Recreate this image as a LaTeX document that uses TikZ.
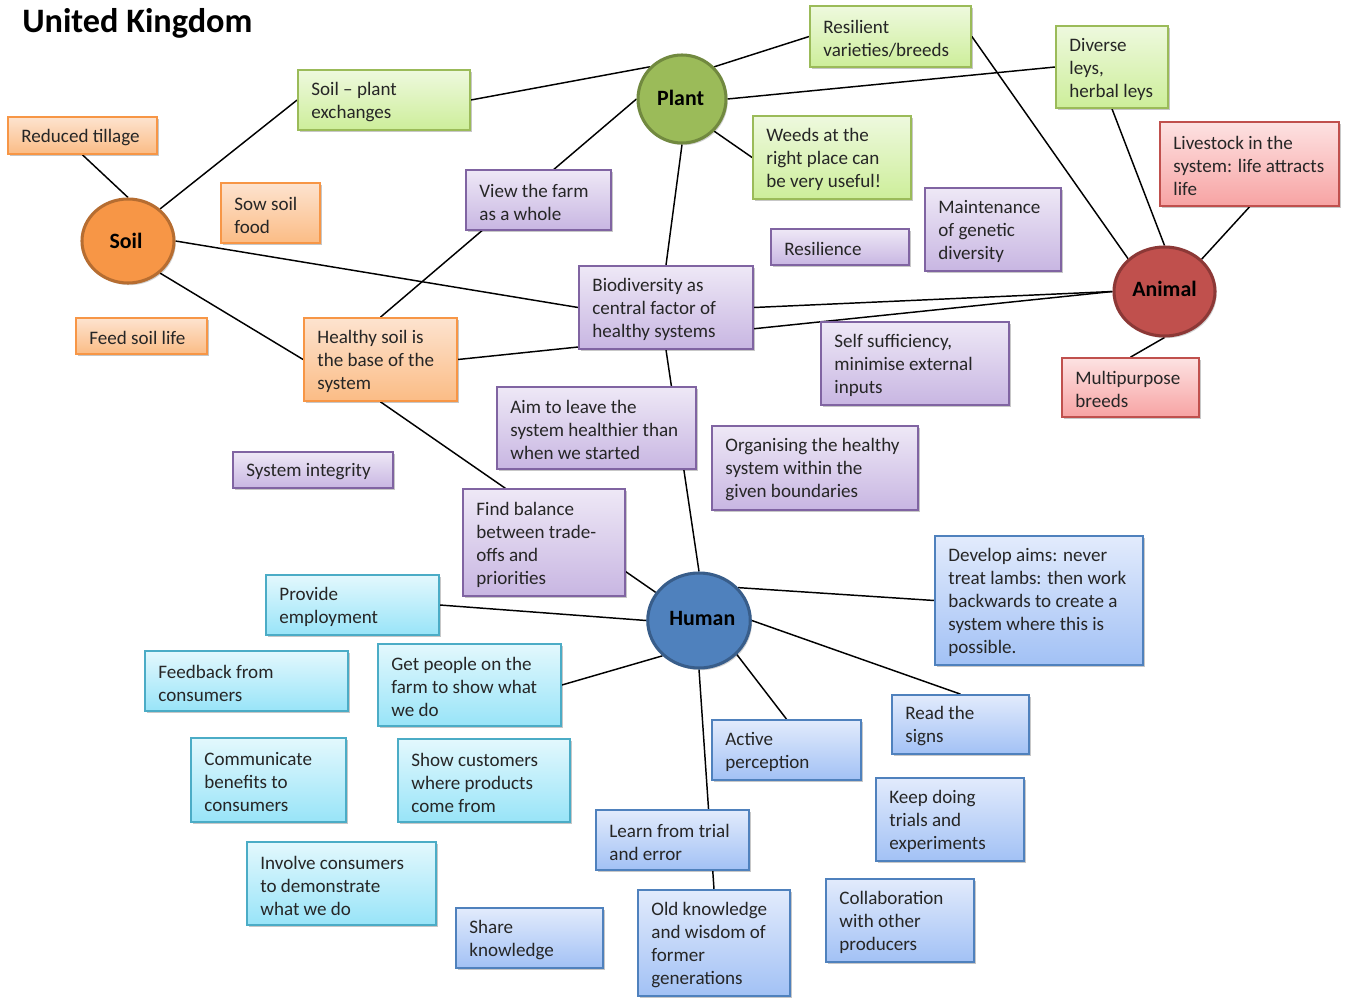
\documentclass[tikz,border=0pt]{standalone}
\usepackage{fontspec}
\setmainfont{Carlito}
\usetikzlibrary{shadows,shapes.geometric}
\pgfdeclarelayer{background}
\pgfsetlayers{background,main}
\definecolor{orD}{HTML}{F79646}\definecolor{orT}{HTML}{FDE3CF}\definecolor{orB}{HTML}{FBBC85}\definecolor{orK}{HTML}{B66D31}
\definecolor{grD}{HTML}{9BBB59}\definecolor{grT}{HTML}{EEF9DE}\definecolor{grB}{HTML}{CDEE9A}\definecolor{grK}{HTML}{71893F}
\definecolor{puD}{HTML}{8064A2}\definecolor{puT}{HTML}{EEE8F6}\definecolor{puB}{HTML}{C8B6E2}
\definecolor{reD}{HTML}{C0504D}\definecolor{reT}{HTML}{FDE2E2}\definecolor{reB}{HTML}{F7A3A3}\definecolor{reK}{HTML}{8C3836}
\definecolor{cyD}{HTML}{4BACC6}\definecolor{cyT}{HTML}{E3F8FD}\definecolor{cyB}{HTML}{98E4F8}
\definecolor{blD}{HTML}{4F81BD}\definecolor{blT}{HTML}{E2EBFC}\definecolor{blB}{HTML}{A2C1F5}\definecolor{blK}{HTML}{385D8A}
\tikzset{
  box/.style={rectangle, line width=1.3pt, inner sep=0pt,
    drop shadow={shadow xshift=1.3pt, shadow yshift=-1.6pt, fill=black, opacity=0.22}},
  obox/.style={box, draw=orD, top color=orT, bottom color=orB},
  gbox/.style={box, draw=grD, top color=grT, bottom color=grB},
  pbox/.style={box, draw=puD, top color=puT, bottom color=puB},
  rbox/.style={box, draw=reD, top color=reT, bottom color=reB},
  cbox/.style={box, draw=cyD, top color=cyT, bottom color=cyB},
  bbox/.style={box, draw=blD, top color=blT, bottom color=blB},
  txt/.style={anchor=west, align=left, inner sep=0pt, text=black!85,
    font=\fontsize{14.3}{17.25}\selectfont},
  circ/.style={ellipse, inner sep=0pt, line width=2.3pt,
    font=\fontsize{16.4}{19}\bfseries\selectfont,
    drop shadow={shadow xshift=1.3pt, shadow yshift=-1.6pt, fill=black, opacity=0.18}},
  conn/.style={draw=black, line width=1.1pt},
}
\newcommand\bx[7]{%
  \pgfmathsetmacro\bxw{(#4-#2)*0.75}%
  \pgfmathsetmacro\bxh{(#5-#3)*0.75}%
  \node[#6, minimum width=\bxw pt, minimum height=\bxh pt] (#1) at ({(#2+#4)/2},{(#3+#5)/2}) {};
  \node[txt] (#1t) at ([xshift=10.5pt,yshift=-1.5pt]#1.west) {#7};}
\begin{document}
\begin{tikzpicture}[x=0.75pt,y=-0.75pt]
\useasboundingbox (0,0) rectangle (1349,999);
\begin{pgfonlayer}{background}
\fill[white] (0,0) rectangle (1349,999);
\end{pgfonlayer}

\node[anchor=base west, inner sep=0pt, font=\fontsize{25.7}{30}\bfseries\selectfont] (title) at (22,33) {United Kingdom};

% circles
\node[circ, fill=orD, draw=orK, minimum width=69pt, minimum height=63pt] (soil) at (128,241) {\hspace*{-3pt}\raisebox{0.8pt}{Soil}};
\node[circ, fill=grD, draw=grK, minimum width=66pt, minimum height=66pt] (plant) at (682,99) {\hspace*{-2pt}\raisebox{2.3pt}{Plant}};
\node[circ, fill=reD, draw=reK, minimum width=75.75pt, minimum height=66.75pt] (animal) at (1164.5,291.5) {\raisebox{3.5pt}{Animal}};
\node[circ, fill=blD, draw=blK, minimum width=76.5pt, minimum height=71.25pt] (human) at (699,620.5) {\hspace*{5pt}\raisebox{3.5pt}{Human}};

% orange
\bx{tillage}{8}{117}{157}{154}{obox}{Reduced tillage}
\bx{sow}{221}{183}{320}{243}{obox}{Sow soil\\food}
\bx{feed}{76}{318}{207}{354}{obox}{Feed soil life}
\bx{healthy}{304}{318}{457}{401}{obox}{Healthy soil is\\the base of the\\system}
% green
\bx{exch}{298}{70}{470}{130}{gbox}{Soil -- plant\\exchanges}
\bx{resil}{810}{6}{971}{67}{gbox}{Resilient\\varieties/breeds}
\bx{leys}{1056}{26}{1168}{108}{gbox}{Diverse\\leys,\\herbal leys}
\bx{weeds}{753}{116}{911}{199}{gbox}{Weeds at the\\right place can\\be very useful!}
% purple
\bx{view}{466}{170}{611}{230}{pbox}{View the farm\\as a whole}
\bx{resilience}{771}{229}{909}{265}{pbox}{Resilience}
\bx{maint}{925}{188}{1061}{271}{pbox}{Maintenance\\of genetic\\diversity}
\bx{bio}{579}{266}{753}{349}{pbox}{Biodiversity as\\central factor of\\healthy systems}
\bx{self}{821}{322}{1009}{405}{pbox}{Self sufficiency,\\minimise external\\inputs}
\bx{aim}{497}{387}{696}{469}{pbox}{Aim to leave the\\system healthier than\\when we started}
\bx{integ}{233}{452}{393}{488}{pbox}{System integrity}
\bx{organ}{712}{426}{918}{510}{pbox}{Organising the healthy\\system within the\\given boundaries}
\bx{find}{463}{489}{625}{596}{pbox}{Find balance\\between trade-\\offs and\\priorities}
% red
\bx{livestock}{1160}{122}{1339}{206}{rbox}{Livestock in the\\system: life attracts\\life}
\bx{multi}{1062}{358}{1199}{417}{rbox}{Multipurpose\\breeds}
% cyan
\bx{provide}{266}{575}{439}{635}{cbox}{Provide\\employment}
\bx{feedback}{145}{651}{348}{711}{cbox}{Feedback from\\consumers}
\bx{getp}{378}{644}{561}{726}{cbox}{Get people on the\\farm to show what\\we do}
\bx{comm}{191}{738}{346}{822}{cbox}{Communicate\\benefits to\\consumers}
\bx{showc}{398}{739}{570}{822}{cbox}{Show customers\\where products\\come from}
\bx{involve}{247}{842}{436}{925}{cbox}{Involve consumers\\to demonstrate\\what we do}
% blue
\bx{develop}{935}{536}{1143}{665}{bbox}{Develop aims: never\\treat lambs: then work\\backwards to create a\\system where this is\\possible.}
\bx{read}{892}{695}{1029}{754}{bbox}{Read the\\signs}
\bx{active}{712}{720}{861}{780}{bbox}{Active\\perception}
\bx{keep}{876}{778}{1024}{861}{bbox}{Keep doing\\trials and\\experiments}
\bx{learn}{596}{810}{749}{870}{bbox}{Learn from trial\\and error}
\bx{collab}{826}{879}{974}{962}{bbox}{Collaboration\\with other\\producers}
\bx{old}{638}{890}{790}{996}{bbox}{Old knowledge\\and wisdom of\\former\\generations}
\bx{share}{456}{908}{603}{968}{bbox}{Share\\knowledge}

\begin{pgfonlayer}{background}
\draw[conn] (tillage.south) -- (soil.north);
\draw[conn] (soil.45) -- (exch.west);
\draw[conn] (exch.east) -- (plant.135);
\draw[conn] (plant.45) -- (resil.west);
\draw[conn] (plant.east) -- (leys.west);
\draw[conn] (plant.-45) -- (weeds.west);
\draw[conn] (plant.south) -- (bio.north);
\draw[conn] (healthy.north) -- (plant.west);
\draw[conn] (soil.east) -- (bio.west);
\draw[conn] (soil.-45) -- (healthy.west);
\draw[conn] (healthy.south) -- (human.147);
\draw[conn] (healthy.east) -- (animal.west);
\draw[conn] (bio.east) -- (animal.west);
\draw[conn] (bio.south) -- (human.north);
\draw[conn] (resil.east) -- (animal.138);
\draw[conn] (leys.south) -- (animal.north);
\draw[conn] (livestock.south) -- (animal.41);
\draw[conn] (animal.south) -- (multi.north);
\draw[conn] (human.40) -- (develop.west);
\draw[conn] (provide.east) -- (human.west);
\draw[conn] (getp.east) -- (human.224);
\draw[conn] (human.east) -- (read.north);
\draw[conn] (human.-42) -- (active.north);
\draw[conn] (human.south) -- (old.north);
\end{pgfonlayer}
\end{tikzpicture}
\end{document}
